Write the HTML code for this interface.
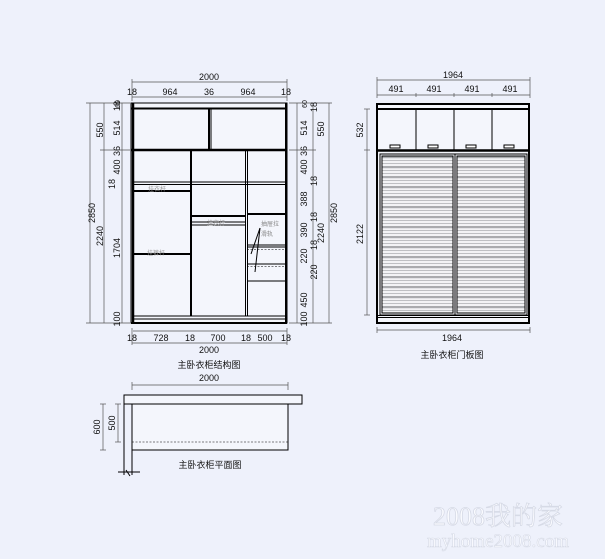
<!DOCTYPE html>
<html><head><style>
body{margin:0;background:#eef1fb;}
svg{display:block;}
text{font-family:"Liberation Sans","Noto Sans CJK SC",sans-serif;font-size:9px;fill:#111;}
</style></head><body>
<svg width="605" height="559" viewBox="0 0 605 559" xmlns="http://www.w3.org/2000/svg">
<defs>
<pattern id="st" x="0" y="156" width="10" height="10" patternUnits="userSpaceOnUse">
<rect width="10" height="10" fill="#f2f3f6"/>
<rect y="0" width="10" height="2.2" fill="#a9abaf"/>
<rect y="4" width="10" height="0.9" fill="#b8babe"/>
<rect y="7" width="10" height="0.9" fill="#b8babe"/>
</pattern>
</defs>
<rect width="605" height="559" fill="#eef1fb"/>

<!-- LEFT STRUCTURE -->
<g stroke="#000" fill="none">
<rect x="131" y="103" width="156" height="220" stroke-width="1" fill="#f4f6fc"/>
<line x1="133" y1="103" x2="133" y2="323" stroke-width="2.5"/>
<line x1="286" y1="103" x2="286" y2="323" stroke-width="2"/>
<line x1="131" y1="108.5" x2="287" y2="108.5" stroke-width="2"/>
<line x1="209" y1="109" x2="209" y2="150" stroke-width="2"/>
<line x1="211" y1="109" x2="211" y2="150" stroke-width="1"/>
<line x1="131" y1="150" x2="287" y2="150" stroke-width="2.5"/>
<line x1="191" y1="150" x2="191" y2="316" stroke-width="2"/>
<line x1="245.5" y1="150" x2="245.5" y2="316" stroke-width="1"/>
<line x1="247.5" y1="150" x2="247.5" y2="316" stroke-width="1"/>
<line x1="133" y1="182" x2="287" y2="182" stroke-width="1"/>
<line x1="133" y1="184.5" x2="287" y2="184.5" stroke-width="1"/>
<line x1="133" y1="191" x2="191" y2="191" stroke-width="2"/>
<line x1="247" y1="214" x2="287" y2="214" stroke-width="2"/>
<line x1="191" y1="216" x2="246" y2="216" stroke-width="2"/>
<line x1="191" y1="222" x2="246" y2="222" stroke-width="1"/>
<line x1="191" y1="225" x2="246" y2="225" stroke-width="1"/>
<line x1="133" y1="254" x2="191" y2="254" stroke-width="2"/>
<line x1="247" y1="245" x2="287" y2="245" stroke-width="1"/>
<line x1="247" y1="247" x2="287" y2="247" stroke-width="1"/>
<line x1="247" y1="249.5" x2="287" y2="249.5" stroke-width="0.6" stroke-dasharray="2 1.5"/>
<line x1="247" y1="264" x2="287" y2="264" stroke-width="1"/>
<line x1="247" y1="266.5" x2="287" y2="266.5" stroke-width="0.6" stroke-dasharray="2 1.5"/>
<line x1="247" y1="281" x2="287" y2="281" stroke-width="1"/>
<line x1="133" y1="316" x2="287" y2="316" stroke-width="1"/>
<line x1="133" y1="319" x2="287" y2="319" stroke-width="1"/>
<line x1="131" y1="323" x2="287" y2="323" stroke-width="2"/>
<line x1="260" y1="228" x2="251" y2="254" stroke-width="1"/>
<line x1="260" y1="228" x2="255" y2="272" stroke-width="1"/>
</g>
<text x="148" y="191" style="font-size:6px;fill:#999">挂衣杆</text>
<text x="207" y="225" style="font-size:6px;fill:#999">挂衣杆</text>
<text x="147" y="255" style="font-size:6px;fill:#999">挂裤杆</text>
<text x="261" y="226" style="font-size:6px;fill:#888">抽屉拉</text>
<text x="261" y="236" style="font-size:6px;fill:#888">滑轨</text>

<g stroke="#555" stroke-width="0.7" fill="none">
<line x1="132" y1="82" x2="287" y2="82"/>
<line x1="132" y1="79" x2="132" y2="101"/><line x1="287" y1="79" x2="287" y2="101"/>
<line x1="132" y1="97" x2="287" y2="97"/>
<line x1="133" y1="331" x2="287" y2="331"/>
<line x1="132" y1="328" x2="132" y2="345"/><line x1="287" y1="328" x2="287" y2="345"/>
<line x1="132" y1="343" x2="287" y2="343"/>
<line x1="90" y1="103" x2="90" y2="323"/>
<line x1="86" y1="103" x2="130" y2="103"/><line x1="86" y1="323" x2="130" y2="323"/>
<line x1="104" y1="103" x2="104" y2="323"/><line x1="100" y1="150" x2="130" y2="150"/>
<line x1="122" y1="103" x2="122" y2="323"/>
<line x1="297" y1="103" x2="297" y2="323"/>
<line x1="313" y1="103" x2="313" y2="323"/>
<line x1="329" y1="103" x2="329" y2="323"/>
<line x1="289" y1="103" x2="332" y2="103"/><line x1="289" y1="323" x2="332" y2="323"/>
<line x1="289" y1="150" x2="316" y2="150"/>
</g>
<text x="209" y="80" text-anchor="middle">2000</text>
<g text-anchor="middle">
<text x="132" y="95">18</text><text x="170" y="95">964</text><text x="209" y="95">36</text><text x="248" y="95">964</text><text x="286" y="95">18</text>
<text x="132" y="341">18</text><text x="161" y="341">728</text><text x="190" y="341">18</text><text x="218" y="341">700</text><text x="246" y="341">18</text><text x="265" y="341">500</text><text x="286" y="341">18</text>
<text x="209" y="353">2000</text>
<text x="209" y="368">主卧衣柜结构图</text>
</g>
<g text-anchor="middle">
<text transform="translate(103,130) rotate(-90)">550</text>
<text transform="translate(95,213) rotate(-90)">2850</text>
<text transform="translate(103,236) rotate(-90)">2240</text>
<text transform="translate(115,184) rotate(-90)">18</text>
<text transform="translate(120,106) rotate(-90)">18</text>
<text transform="translate(120,104) rotate(-90)" style="font-size:7px">60</text>
<text transform="translate(120,128) rotate(-90)">514</text>
<text transform="translate(120,151) rotate(-90)">36</text>
<text transform="translate(120,167) rotate(-90)">400</text>
<text transform="translate(120,248) rotate(-90)">1704</text>
<text transform="translate(120,319) rotate(-90)">100</text>

<text transform="translate(307,104) rotate(-90)" style="font-size:7px">60</text>
<text transform="translate(307,128) rotate(-90)">514</text>
<text transform="translate(307,151) rotate(-90)">36</text>
<text transform="translate(307,167) rotate(-90)">400</text>
<text transform="translate(307,199) rotate(-90)">388</text>
<text transform="translate(307,230) rotate(-90)">390</text>
<text transform="translate(307,256) rotate(-90)">220</text>
<text transform="translate(307,300) rotate(-90)">450</text>
<text transform="translate(307,319) rotate(-90)">100</text>
<text transform="translate(317,107) rotate(-90)">18</text>
<text transform="translate(324,129) rotate(-90)">550</text>
<text transform="translate(317,181) rotate(-90)">18</text>
<text transform="translate(317,217) rotate(-90)">18</text>
<text transform="translate(317,245) rotate(-90)">18</text>
<text transform="translate(317,272) rotate(-90)">220</text>
<text transform="translate(324,233) rotate(-90)">2240</text>
<text transform="translate(337,213) rotate(-90)">2850</text>
</g>

<!-- RIGHT DOORS -->
<g stroke="#000" fill="none">
<rect x="377" y="104" width="152" height="219" stroke-width="2" fill="#f4f6fc"/>
<line x1="377" y1="109" x2="529" y2="109" stroke-width="2"/>
<line x1="416" y1="109" x2="416" y2="150" stroke-width="1"/>
<line x1="454" y1="109" x2="454" y2="150" stroke-width="1"/>
<line x1="492" y1="109" x2="492" y2="150" stroke-width="1"/>
<line x1="377" y1="150.5" x2="529" y2="150.5" stroke-width="2.5"/>
<rect x="380" y="154" width="75" height="161" stroke-width="1"/>
<rect x="455" y="154" width="72" height="161" stroke-width="1"/>
<line x1="377" y1="315.5" x2="529" y2="315.5" stroke-width="1"/>
<line x1="377" y1="317.5" x2="529" y2="317.5" stroke-width="1"/>
<rect x="390" y="145" width="10" height="3" stroke-width="1" fill="#fff"/>
<rect x="428" y="145" width="10" height="3" stroke-width="1" fill="#fff"/>
<rect x="466" y="145" width="10" height="3" stroke-width="1" fill="#fff"/>
<rect x="504" y="145" width="10" height="3" stroke-width="1" fill="#fff"/>
</g>
<rect x="382" y="156" width="71" height="157" fill="url(#st)" stroke="#000" stroke-width="1"/>
<rect x="457" y="156" width="68" height="157" fill="url(#st)" stroke="#000" stroke-width="1"/>
<g stroke="#555" stroke-width="0.7" fill="none">
<line x1="377" y1="80" x2="530" y2="80"/>
<line x1="377" y1="95" x2="530" y2="95"/>
<line x1="377" y1="77" x2="377" y2="98"/><line x1="530" y1="77" x2="530" y2="98"/>
<line x1="416" y1="93" x2="416" y2="97"/><line x1="454" y1="93" x2="454" y2="97"/><line x1="492" y1="93" x2="492" y2="97"/>
<line x1="367" y1="109" x2="367" y2="315"/>
<line x1="364" y1="109" x2="370" y2="109"/><line x1="364" y1="150" x2="370" y2="150"/><line x1="364" y1="315" x2="370" y2="315"/>
<line x1="377" y1="330" x2="530" y2="330"/>
<line x1="377" y1="327" x2="377" y2="333"/><line x1="530" y1="327" x2="530" y2="333"/>
</g>
<g text-anchor="middle">
<text x="453" y="78">1964</text>
<text x="396" y="92">491</text><text x="434" y="92">491</text><text x="472" y="92">491</text><text x="510" y="92">491</text>
<text x="452" y="341">1964</text>
<text x="452" y="358">主卧衣柜门板图</text>
<text transform="translate(363,130) rotate(-90)">532</text>
<text transform="translate(363,234) rotate(-90)">2122</text>
</g>

<!-- PLAN -->
<g stroke="#000" fill="none" stroke-width="1">
<rect x="124" y="395" width="178" height="9" fill="#f4f6fc"/>
<path d="M124 404 V475 M132 404 V475"/>
<rect x="132" y="404" width="156" height="46" fill="#f4f6fc"/>
<line x1="132" y1="442" x2="288" y2="442" stroke-dasharray="2 1.5" stroke-width="0.6"/>
<path d="M118 472 H140 M126 470 L130 476" stroke-width="1"/>
</g>
<g stroke="#555" stroke-width="0.7" fill="none">
<line x1="132" y1="385" x2="288" y2="385"/>
<line x1="132" y1="382" x2="132" y2="390"/><line x1="288" y1="382" x2="288" y2="390"/>
<line x1="103" y1="404" x2="103" y2="450"/><line x1="100" y1="404" x2="106" y2="404"/><line x1="100" y1="450" x2="106" y2="450"/>
<line x1="118" y1="404" x2="118" y2="442"/><line x1="115" y1="404" x2="121" y2="404"/><line x1="115" y1="442" x2="121" y2="442"/>
</g>
<text x="209" y="381" text-anchor="middle">2000</text>
<text transform="translate(100,427) rotate(-90)" text-anchor="middle">600</text>
<text transform="translate(115,423) rotate(-90)" text-anchor="middle">500</text>
<text x="210" y="468" text-anchor="middle">主卧衣柜平面图</text>

<text x="498" y="525" text-anchor="middle" style="font-family:'Liberation Serif','Noto Serif CJK SC',serif;font-size:26px;fill:#fafbff;stroke:#d6dae6;stroke-width:0.8">2008我的家</text>
<text x="498" y="547" text-anchor="middle" style="font-family:'Liberation Serif',serif;font-size:19px;fill:#fafbff;stroke:#d6dae6;stroke-width:0.6">myhome2008.com</text>
</svg>
</body></html>
